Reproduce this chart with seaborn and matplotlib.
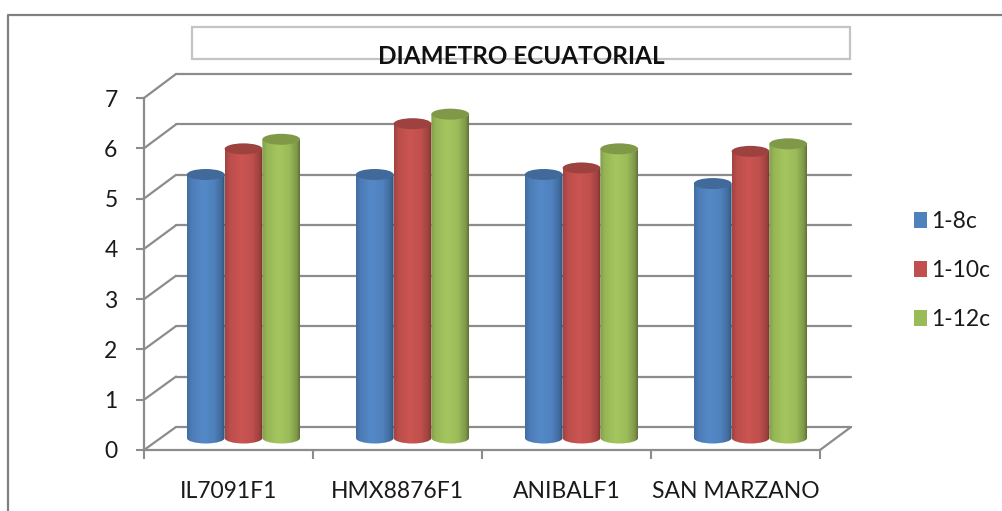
import numpy as np
import pandas as pd
import matplotlib
matplotlib.use("Agg")
import matplotlib.pyplot as plt
from matplotlib.patches import ConnectionPatch, Ellipse, PathPatch, Rectangle
from matplotlib.path import Path
from matplotlib.colors import LinearSegmentedColormap, to_rgb
import seaborn as sns

categories = ["IL7091F1", "HMX8876F1", "ANIBALF1", "SAN MARZANO"]
series_names = ["1-8c", "1-10c", "1-12c"]
values_8c = [5.24, 5.24, 5.24, 5.06]
values_10c = [5.75, 6.25, 5.37, 5.70]
values_12c = [5.94, 6.44, 5.75, 5.85]
colors = ["#4F81BD", "#C0504D", "#9BBB59"]
title = "DIAMETRO ECUATORIAL"

W, H = 1003, 511
GRID = "#8C8C8C"
FONT = "Lato"
LABEL_SIZE = 16.5

sns.set_theme(style="white")
plt.rcParams["font.family"] = [FONT, "DejaVu Sans"]

fig = plt.figure(figsize=(W / 100, H / 100), dpi=100, facecolor="white")


def rect(left, right, top, bottom):
    """Axes rectangle from pixel edges measured from the top-left corner."""
    return [left / W, 1 - bottom / H, (right - left) / W, (bottom - top) / H]


# Outer chart border and title box
fig.add_artist(plt.Line2D([8 / W, 8 / W, 1], [0, 1 - 15 / H, 1 - 15 / H],
                          color="#808080", lw=1.6, transform=fig.transFigure))
fig.add_artist(Rectangle((192 / W, 1 - 59 / H), 658 / W, 32 / H, fill=False,
                         ec="#C4C4C4", lw=1.6, transform=fig.transFigure))

# Back wall with the horizontal gridlines
wall = fig.add_axes(rect(176, 851, 74, 427), zorder=1)
wall.set_xlim(-0.5, 3.5)
wall.set_ylim(0, 7)
wall.patch.set_visible(False)
wall.set_yticks(range(8))
wall.set_xticks([])
wall.tick_params(left=False, labelleft=False)
wall.grid(axis="y", color=GRID, lw=1.6)
wall.set_axisbelow(True)
for sp in wall.spines.values():
    sp.set_visible(False)
for gl in wall.get_ygridlines():
    gl.set_clip_on(False)

# Front plane carrying the two axes
front = fig.add_axes(rect(144, 820, 98, 450), zorder=2)
front.set_xlim(-0.5, 3.5)
front.set_ylim(0, 7)
front.patch.set_visible(False)
for side in ("top", "right"):
    front.spines[side].set_visible(False)
for side in ("left", "bottom"):
    front.spines[side].set_color(GRID)
    front.spines[side].set_linewidth(1.6)
front.set_yticks(range(8))
front.set_xticks(range(4))
front.set_xticklabels(categories)
front.set_xticks(np.arange(-0.5, 4), minor=True)
front.tick_params(axis="y", length=6, width=1.5, color=GRID, pad=13,
                  labelsize=LABEL_SIZE, labelcolor="#1A1A1A", left=True)
front.tick_params(axis="x", which="major", length=0, pad=22.5,
                  labelsize=LABEL_SIZE, labelcolor="#1A1A1A", bottom=True)
front.tick_params(axis="x", which="minor", length=6.5, width=1.5, color=GRID, bottom=True)
front.grid(False)

# Side wall and floor edges joining the front plane to the back wall
for v in range(8):
    wall.add_artist(ConnectionPatch((-0.5, v), (-0.5, v), coordsA=front.transData,
                                    coordsB=wall.transData, color=GRID, lw=1.6))
wall.add_artist(ConnectionPatch((3.5, 0), (3.5, 0), coordsA=front.transData,
                                coordsB=wall.transData, color=GRID, lw=1.6))

# Bars stand midway between the front plane and the back wall
PAD = 0.3
bars = fig.add_axes(rect(159, 835, 86, 438 + PAD * 352 / 7), zorder=3)
bars.patch.set_visible(False)
table = pd.DataFrame({
    "category": categories * 3,
    "series": np.repeat(series_names, 4),
    "value": values_8c + values_10c + values_12c,
})
sns.barplot(data=table, x="category", y="value", hue="series", hue_order=series_names,
            palette=colors, width=0.67, gap=0, dodge=True, saturation=1,
            linewidth=0, ax=bars, errorbar=None, legend=False)
bars.set_xlim(-0.5, 3.5)
bars.set_ylim(-PAD, 7)
bars.axis("off")

# Shade each bar as a cylinder: lit left of centre, dark toward both edges
EH = 5.5 / (352 / 7)  # half height of an end cap, in value units
stops = [0.0, 0.12, 0.42, 0.72, 0.92, 1.0]
gains = [0.85, 0.97, 1.06, 1.0, 0.82, 0.62]
z = 5
for container, col in zip(bars.containers, colors):
    base = np.array(to_rgb(col))
    cmap = LinearSegmentedColormap.from_list(
        "cyl", [(s, tuple(np.clip(base * g, 0, 1))) for s, g in zip(stops, gains)])
    for p in container.patches:
        x0, w, h = p.get_x(), p.get_width(), p.get_height()
        xc, k = x0 + w / 2, 0.5523
        verts = [(x0, h),
                 (x0, 0),
                 (x0, -EH * k), (xc - w / 2 * k, -EH), (xc, -EH),
                 (xc + w / 2 * k, -EH), (x0 + w, -EH * k), (x0 + w, 0),
                 (x0 + w, h),
                 (x0, h)]
        codes = [Path.MOVETO, Path.LINETO,
                 Path.CURVE4, Path.CURVE4, Path.CURVE4,
                 Path.CURVE4, Path.CURVE4, Path.CURVE4,
                 Path.LINETO, Path.CLOSEPOLY]
        clip = PathPatch(Path(verts, codes), transform=bars.transData, fc="none", ec="none")
        bars.add_patch(clip)
        im = bars.imshow(np.linspace(0, 1, 64)[None, :], cmap=cmap, aspect="auto",
                         extent=(x0, x0 + w, -EH, h), zorder=z)
        im.set_clip_path(clip)
        p.set_visible(False)
        bars.add_patch(Ellipse((xc, h), w, 2 * EH, fc=base * 0.82, ec="none", zorder=z + 0.5))
    z += 1
bars.set_xlim(-0.5, 3.5)
bars.set_ylim(-PAD, 7)

# Legend with square keys on the right
handles = [Rectangle((0, 0), 1, 1, fc=c, ec="none") for c in colors]
fig.legend(handles, series_names, loc="upper left", bbox_to_anchor=(914 / W, 1 - 211 / H),
           frameon=False, fontsize=LABEL_SIZE, handlelength=0.55, handleheight=0.65,
           labelspacing=1.22, handletextpad=0.2, borderpad=0, borderaxespad=0,
           labelcolor="#1A1A1A")

fig.text(521 / W, 1 - 56 / H, title, ha="center", va="center", fontsize=17.5,
         fontweight="bold", color="#111111", zorder=10)

fig.savefig("out.png", dpi=100)
